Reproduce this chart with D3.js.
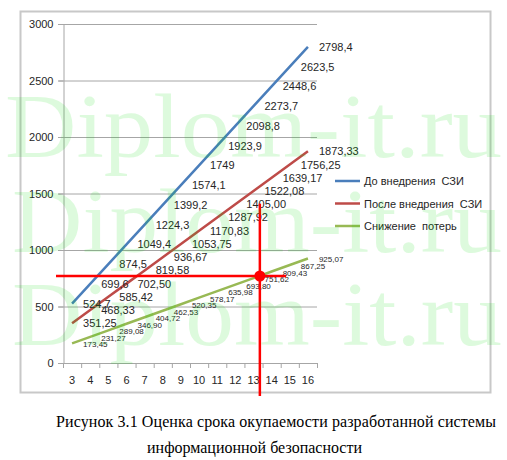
<!DOCTYPE html>
<html>
<head>
<meta charset="utf-8">
<script src="https://cdn.jsdelivr.net/npm/d3@7"></script>
<style>
body { margin: 0; background: #fff; }
svg text { font-family: "Liberation Sans", Arial, sans-serif; }
</style>
</head>
<body>
<svg id="chart" width="507" height="460"></svg>
<script>
// years on the category axis
const years = [3, 4, 5, 6, 7, 8, 9, 10, 11, 12, 13, 14, 15, 16];

// losses before protection
const beforeValues = [524.7, 699.6, 874.5, 1049.4, 1224.3, 1399.2, 1574.1, 1749, 1923.9, 2098.8, 2273.7, 2448.6, 2623.5, 2798.4];
const beforeLabels = ["524,7", "699,6", "874,5", "1049,4", "1224,3", "1399,2", "1574,1", "1749", "1923,9", "2098,8", "2273,7", "2448,6", "2623,5", "2798,4"];

// losses after protection
const afterValues = [351.25, 468.33, 585.42, 702.50, 819.58, 936.67, 1053.75, 1170.83, 1287.92, 1405.00, 1522.08, 1639.17, 1756.25, 1873.33];

// loss reduction
const reductionValues = [173.45, 231.27, 289.08, 346.90, 404.72, 462.53, 520.35, 578.17, 635.98, 693.80, 751.62, 809.43, 867.25, 925.07];

const yTicks = [0, 500, 1000, 1500, 2000, 2500, 3000];
const seriesNames = ["До внедрения  СЗИ", "После внедрения  СЗИ", "Снижение  потерь"];

// payback point marked by hand on the figure
const paybackYear = 13.35;
const paybackValue = 770;

const svg = d3.select("#chart");

// chart frame
svg.append("rect")
.attr("x", 20.5)
.attr("y", 11.5)
.attr("width", 470)
.attr("height", 381)
.attr("fill", "none")
.attr("stroke", "#c8c8c8")
.attr("stroke-width", 2);

let x = d3.scaleLinear()
.domain([2.5, 16.5])
.range([63, 317]);

let y = d3.scaleLinear()
.domain([0, 3000])
.range([363, 24]);

// grid
svg.append("g")
.selectAll("line")
.data(yTicks.filter(d => d > 0))
.join("line")
.attr("x1", 58)
.attr("x2", x(16.5))
.attr("y1", d => y(d) + 0.5)
.attr("y2", d => y(d) + 0.5)
.attr("stroke", "#a6a6a6");

// y axis
let yAxis = svg.append("g")
.attr("transform", "translate(63.5,0)")
.call(d3.axisLeft(y).tickValues(yTicks).tickFormat(d3.format("d")).tickSize(5).tickPadding(5));
yAxis.select(".domain").attr("stroke", "#a6a6a6");
yAxis.selectAll(".tick line").attr("stroke", "#a6a6a6");
yAxis.selectAll("text")
.style("font-size", "11px")
.attr("fill", "#262626");

// x axis: ticks between categories, labels at centres
svg.append("line")
.attr("x1", x(2.5) - 5)
.attr("x2", x(16.5))
.attr("y1", y(0) + 0.5)
.attr("y2", y(0) + 0.5)
.attr("stroke", "#a6a6a6");

svg.append("g")
.selectAll("line")
.data(d3.range(2.5, 17, 1))
.join("line")
.attr("x1", d => x(d) + 0.5)
.attr("x2", d => x(d) + 0.5)
.attr("y1", y(0))
.attr("y2", y(0) + 5)
.attr("stroke", "#a6a6a6");

svg.append("g")
.selectAll("text")
.data(years)
.join("text")
.attr("x", d => x(d))
.attr("y", y(0) + 21)
.attr("text-anchor", "middle")
.style("font-size", "11px")
.attr("fill", "#262626")
.text(d => d);

const fmt = v => d3.format(".2f")(v).replace(".", ",");

let series = [
	{ name: seriesNames[0], color: "#4a7ebb", values: beforeValues, labels: beforeLabels, size: 11 },
	{ name: seriesNames[1], color: "#be4b48", values: afterValues, labels: afterValues.map(fmt), size: 11 },
	{ name: seriesNames[2], color: "#98b954", values: reductionValues, labels: reductionValues.map(fmt), size: 8 }
];

let line = d3.line()
.x((d, i) => x(years[i]))
.y(d => y(d));

series.forEach(s => {
	svg.append("path")
	.datum(s.values)
	.attr("d", line)
	.attr("fill", "none")
	.attr("stroke", s.color)
	.attr("stroke-width", 2.5);
});

series.forEach(s => {
	svg.append("g")
	.selectAll("text")
	.data(s.values)
	.join("text")
	.attr("x", (d, i) => x(years[i]) + 11)
	.attr("y", d => y(d) + 4)
	.style("font-size", s.size + "px")
	.attr("fill", "#262626")
	.text((d, i) => s.labels[i]);
});

// legend
let legend = svg.append("g")
.selectAll("g")
.data(series)
.join("g")
.attr("transform", (d, i) => `translate(335,${181 + i * 22.5})`);

legend.append("line")
.attr("x1", 0)
.attr("x2", 25)
.attr("stroke", d => d.color)
.attr("stroke-width", 2.5);

legend.append("text")
.attr("x", 29)
.attr("y", 4)
.style("font-size", "11px")
.style("white-space", "pre")
.attr("fill", "#262626")
.text(d => d.name);

// payback annotation
svg.append("line")
.attr("x1", 56)
.attr("x2", x(14.8))
.attr("y1", y(paybackValue))
.attr("y2", y(paybackValue))
.attr("stroke", "#ff0000")
.attr("stroke-width", 2.5);

svg.append("line")
.attr("x1", x(paybackYear))
.attr("x2", x(paybackYear))
.attr("y1", y(1410))
.attr("y2", 396)
.attr("stroke", "#ff0000")
.attr("stroke-width", 2.5);

svg.append("circle")
.attr("cx", x(paybackYear))
.attr("cy", y(paybackValue))
.attr("r", 5.5)
.attr("fill", "#ff0000");

// caption
let caption = svg.append("g")
.style("font-size", "16px")
.attr("fill", "#000");

caption.append("text")
.attr("x", 56)
.attr("y", 427)
.attr("textLength", 440)
.style("font-family", "'Liberation Serif', serif")
.text("Рисунок 3.1 Оценка срока окупаемости разработанной системы");

caption.append("text")
.attr("x", 147)
.attr("y", 453)
.style("font-family", "'Liberation Serif', serif")
.text("информационной безопасности");

// watermark
svg.append("g")
.selectAll("text")
.data([157, 252, 345])
.join("text")
.attr("x", (d, i) => i == 0 ? 5 : 12)
.attr("y", d => d)
.attr("textLength", (d, i) => i == 0 ? 497 : 490)
.attr("lengthAdjust", "spacingAndGlyphs")
.style("font-family", "'Liberation Serif', serif")
.style("font-size", "90px")
.attr("fill", "#00e000")
.attr("opacity", 0.13)
.text("Diplom-it.ru");
</script>
</body>
</html>
